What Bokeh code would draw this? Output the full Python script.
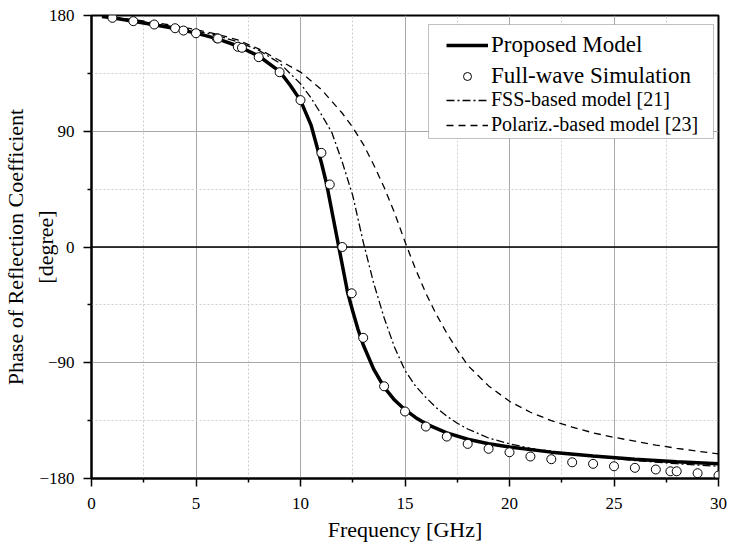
from bokeh.plotting import figure
from bokeh.models import FixedTicker, Span, Legend, LegendItem, BoxAnnotation
from bokeh.embed import file_html
from bokeh.resources import INLINE

# ---- data ----
sim_freq = [1, 2, 3, 4, 4.4, 5, 6, 6.05, 7, 7.2, 8, 9, 10, 11, 11.4, 12, 12.45, 13, 14, 15,
            16, 17, 18, 19, 20, 21, 22, 23, 24, 25, 26, 27, 27.7, 28, 29, 30]
sim_phase = [178.2, 175.6, 173.0, 170.1, 168.3, 166.2, 162.3, 162.1, 155.7, 154.9, 147.6, 135.9,
             114.2, 73.2, 48.6, 0.0, -36.0, -70.6, -108.3, -127.9, -139.6, -147.4, -153.1, -156.9,
             -159.6, -162.9, -165.0, -167.4, -168.6, -170.5, -171.7, -173.0, -174.4, -174.4, -175.9, -177.7]

model_freq = [0.5, 1, 2, 3, 4, 5, 6, 7, 8, 9, 9.5, 10, 10.5, 11, 11.25, 11.5, 11.75, 12, 12.25,
              12.5, 12.75, 13, 13.5, 14, 14.5, 15, 15.5, 16, 17, 18, 19, 20, 22, 24, 26, 28, 30]
model_phase = [179.2, 178.3, 175.6, 172.8, 169.8, 166.3, 162.0, 156.3, 148.5, 136.5, 126.0, 114.0,
               95.0, 65.5, 49.0, 28.0, 7.0, -14.0, -35.0, -50.0, -64.0, -76.0, -95.0, -109.0,
               -119.0, -126.5, -132.5, -137.5, -144.5, -149.5, -153.0, -155.5, -159.5, -162.5,
               -165.0, -167.0, -168.6]

fss_freq = [0.5, 1, 2, 3, 4, 5, 6, 7, 8, 9, 10, 10.5, 11, 11.5, 12, 12.5, 13, 13.5, 14, 14.5,
            15, 15.5, 16, 16.5, 17, 17.5, 18, 19, 20, 21, 22, 24, 26, 28, 30]
fss_phase = [179.3, 178.6, 176.2, 173.8, 171.0, 168.0, 164.5, 159.5, 153.0, 143.0, 127.0, 116.0,
             103.0, 89.0, 66.0, 40.0, 4.0, -28.0, -55.0, -78.0, -96.0, -108.0, -117.0, -125.0,
             -131.5, -137.0, -141.5, -148.5, -153.0, -156.5, -159.0, -163.0, -166.0, -168.5, -170.5]

pol_freq = [0.5, 1, 2, 3, 4, 5, 6, 7, 8, 9, 10, 11, 12, 12.5, 13, 13.5, 14, 14.5, 15, 15.5, 16,
            16.5, 17, 17.5, 18, 19, 20, 21, 22, 23, 24, 25, 26, 27, 28, 29, 30]
pol_phase = [179.4, 178.8, 176.8, 174.5, 172.0, 169.0, 165.5, 161.0, 154.0, 145.0, 136.0, 122.5,
             104.0, 93.0, 80.0, 64.0, 46.5, 26.5, 4.0, -17.0, -36.0, -52.5, -67.0, -80.0, -92.0,
             -108.0, -120.0, -128.5, -135.0, -140.0, -144.5, -148.0, -151.0, -154.0, -156.5, -158.8, -160.8]

x_ticks = [0, 5, 10, 15, 20, 25, 30]
x_minor = [2.5, 7.5, 12.5, 17.5, 22.5, 27.5]
y_ticks = [-180, -90, 0, 90, 180]
y_minor = [-135, -45, 45, 135]

labels = ["Proposed Model", "Full-wave Simulation", "FSS-based model [21]", "Polariz.-based model [23]"]

FONT = "Liberation Serif"

p = figure(width=729, height=545, output_backend="svg", toolbar_location=None,
           x_range=(0, 30), y_range=(-180, 180),
           min_border_left=90, min_border_right=11, min_border_top=15, min_border_bottom=67,
           x_axis_label="Frequency [GHz]",
           y_axis_label="Phase of Reflection Coefficient\n[degree]")
p.background_fill_color = "white"
p.border_fill_color = "white"
p.outline_line_color = "black"
p.outline_line_width = 2

p.xaxis.ticker = FixedTicker(ticks=x_ticks, minor_ticks=x_minor)
p.yaxis.ticker = FixedTicker(ticks=y_ticks, minor_ticks=y_minor)

for ax in (p.xaxis[0], p.yaxis[0]):
    ax.axis_line_width = 2
    ax.axis_line_color = "black"
    ax.major_tick_out = 8
    ax.major_tick_in = 0
    ax.minor_tick_out = 4
    ax.minor_tick_in = 0
    ax.major_tick_line_width = 1.5
    ax.minor_tick_line_width = 1.5
    ax.major_label_text_font = FONT
    ax.major_label_text_font_size = "17px"
    ax.major_label_text_color = "black"
    ax.axis_label_text_font = FONT
    ax.axis_label_text_font_size = "22px"
    ax.axis_label_text_font_style = "normal"
    ax.axis_label_text_color = "black"

p.xaxis.major_label_standoff = 11
p.xaxis.axis_label_standoff = 5
p.yaxis.major_label_standoff = 9
p.yaxis.axis_label_standoff = -22

for g in (p.xgrid[0], p.ygrid[0]):
    g.grid_line_color = "#a8a8a8"
    g.grid_line_width = 1
    g.minor_grid_line_color = "#cfcfcf"
    g.minor_grid_line_dash = "2 2"
    g.minor_grid_line_width = 1

zero = Span(location=0, dimension="width", line_color="black", line_width=1.5, level="underlay")
p.add_layout(zero)

r_fss = p.line(fss_freq, fss_phase, line_color="black", line_width=1.3, line_dash="8 3 2 3")
r_pol = p.line(pol_freq, pol_phase, line_color="black", line_width=1.3, line_dash="7 5")
r_model = p.line(model_freq, model_phase, line_color="black", line_width=3.5)
r_sim = p.scatter(sim_freq, sim_phase, marker="circle", size=9, fill_color="white",
                  line_color="black", line_width=1)

box = BoxAnnotation(left=337, right=622, top=454, bottom=340,
                    left_units="screen", right_units="screen", top_units="screen", bottom_units="screen",
                    fill_color="white", fill_alpha=1.0, line_color="#333333", line_width=1, level="annotation")
p.add_layout(box)

legA = Legend(items=[LegendItem(label=labels[0], renderers=[r_model]),
                     LegendItem(label=labels[1], renderers=[r_sim])],
              location=(355, 389), label_text_font=FONT, label_text_font_size="23px",
              glyph_width=42, glyph_height=20, label_standoff=3, spacing=5, padding=0, margin=0,
              border_line_alpha=0, background_fill_alpha=0, label_text_color="black")
legB = Legend(items=[LegendItem(label=labels[2], renderers=[r_fss]),
                     LegendItem(label=labels[3], renderers=[r_pol])],
              location=(355, 342), label_text_font=FONT, label_text_font_size="20px",
              glyph_width=42, glyph_height=18, label_standoff=3, spacing=2, padding=0, margin=0,
              border_line_alpha=0, background_fill_alpha=0, label_text_color="black")
p.add_layout(legA)
p.add_layout(legB)

open("out.html", "w").write(file_html(p, INLINE))
